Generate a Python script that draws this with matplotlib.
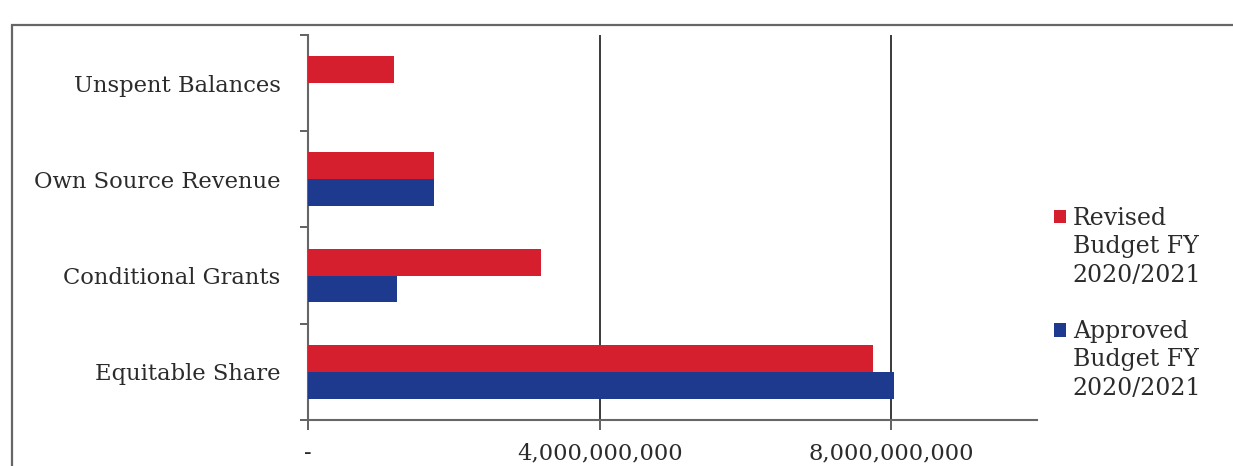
import matplotlib.pyplot as plt
from matplotlib.patches import Rectangle
import numpy as np

# budget sources, bottom to top
categories = ["Equitable Share", "Conditional Grants", "Own Source Revenue", "Unspent Balances"]
revised = [7.75e9, 3.19e9, 1.73e9, 1.18e9]
approved = [8.04e9, 1.22e9, 1.73e9, 0]
series_names = ["Revised\nBudget FY\n2020/2021", "Approved\nBudget FY\n2020/2021"]

xticks = [0, 4e9, 8e9]
xtick_labels = ["-", "4,000,000,000", "8,000,000,000"]

red = "#d61f2e"
blue = "#1d3a8e"
txt = "#2b2b2b"

plt.rcParams['font.family'] = ['DejaVu Serif']

fig = plt.figure(figsize=(12.33, 4.66), dpi=100)
ax = fig.add_axes([0.25, 0.099, 0.591, 0.826])

y = np.arange(len(categories))
h = 0.28
ax.barh(y + h / 2, revised, height=h, color=red, label=series_names[0], zorder=3)
ax.barh(y - h / 2, approved, height=h, color=blue, label=series_names[1], zorder=3)

ax.set_xlim(0, 10e9)
ax.set_ylim(-0.5, len(categories) - 0.5)

ax.set_xticks(xticks)
ax.set_xticklabels(xtick_labels, fontsize=16.3, color=txt)
ax.tick_params(axis='x', length=7, width=1.3, color='#555', pad=9)

ax.set_yticks(y)
ax.set_yticklabels(categories, fontsize=16.3, color=txt)
ax.tick_params(axis='y', which='major', length=0, pad=20)
ax.set_yticks(np.arange(-0.5, len(categories)), minor=True)
ax.tick_params(axis='y', which='minor', length=6, width=1.3, color='#555')

ax.xaxis.grid(True, color='#3a3a3a', lw=1.4, zorder=1)
for s in ['top', 'right']:
    ax.spines[s].set_visible(False)
for s in ['left', 'bottom']:
    ax.spines[s].set_color('#666')
    ax.spines[s].set_linewidth(1.5)

leg = ax.legend(loc='center left', bbox_to_anchor=(0.994, 0.303), frameon=False,
                fontsize=17, handlelength=0.5, handleheight=0.5,
                handletextpad=0.3, labelspacing=1.4)
for t in leg.get_texts():
    t.set_color(txt)
    t.set_linespacing(1.31)
# put the colour square next to the first line of each label
for p in leg.get_patches():
    p.set_y(p.get_y() + 22)

# outer border of the chart
fig.add_artist(Rectangle((0.01, -0.05), 1.2, 0.996, transform=fig.transFigure,
                         fill=False, ec='#666', lw=1.6))

fig.savefig("out.png", dpi=100)
